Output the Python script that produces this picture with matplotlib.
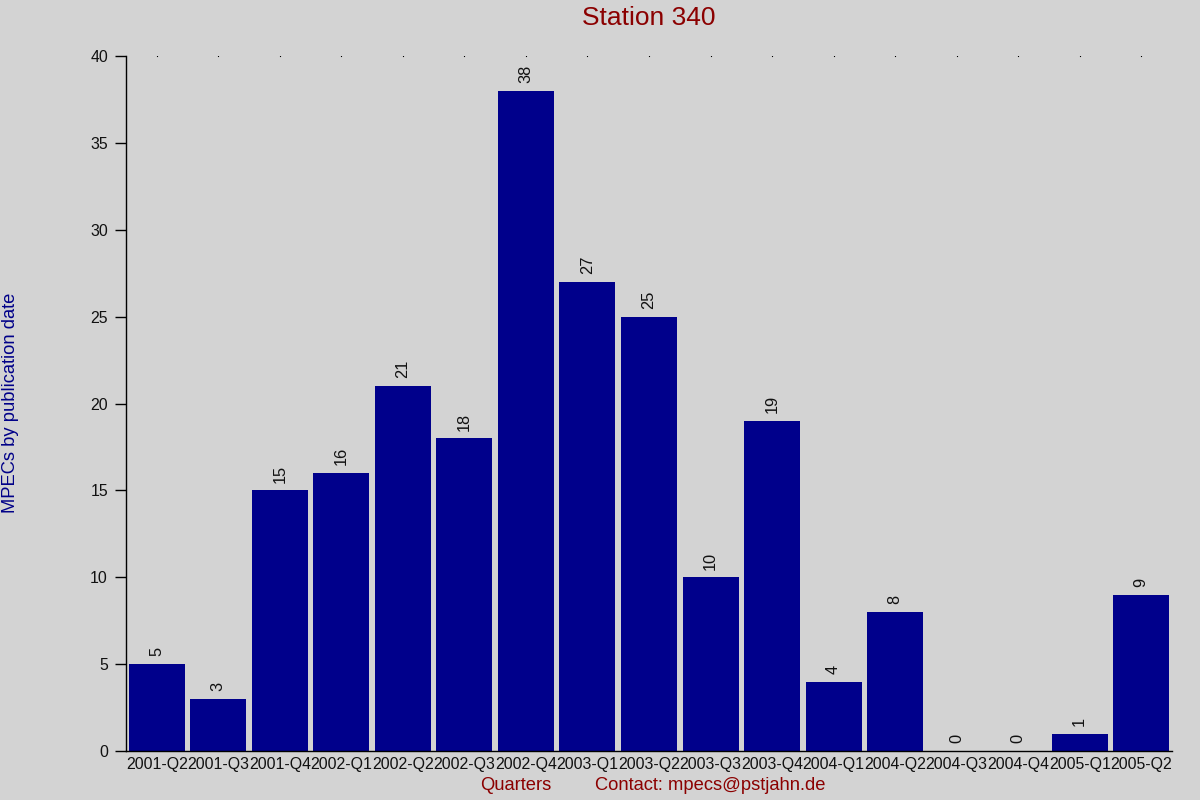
import matplotlib
matplotlib.use("Agg")
import matplotlib.pyplot as plt
import numpy as np

quarters = ['2001-Q2', '2001-Q3', '2001-Q4', '2002-Q1', '2002-Q2', '2002-Q3',
            '2002-Q4', '2003-Q1', '2003-Q2', '2003-Q3', '2003-Q4', '2004-Q1',
            '2004-Q2', '2004-Q3', '2004-Q4', '2005-Q1', '2005-Q2']
counts = [5, 3, 15, 16, 21, 18, 38, 27, 25, 10, 19, 4, 8, 0, 0, 1, 9]
y_ticks = [0, 5, 10, 15, 20, 25, 30, 35, 40]

bg = '#d3d3d3'
bar_color = '#00008b'
red = '#8b0000'

plt.rcParams['font.family'] = ['Liberation Sans', 'DejaVu Sans']

fig = plt.figure(figsize=(12, 8), dpi=100, facecolor=bg)
ax = fig.add_axes([126 / 1200, 1 - 751 / 800, 1046 / 1200, 695 / 800])
ax.set_facecolor(bg)

x = np.arange(len(quarters))
ax.bar(x, counts, width=0.91, color=bar_color, zorder=2)

# value labels above each bar
for xi, c in zip(x, counts):
    ax.annotate(str(c), (xi, c), xytext=(0, 5.5), textcoords='offset points',
                rotation=90, ha='center', va='bottom', fontsize=11.8,
                color='#111111')

# dotted grid marks along the top
ax.plot(x, [y_ticks[-1]] * len(x), linestyle='none', marker='s',
        markersize=0.8, markeredgewidth=0, color='black', zorder=1)

ax.set_xlim(-0.5, len(quarters) - 0.5)
ax.set_ylim(0, 40)
ax.set_yticks(y_ticks)
ax.set_xticks(x)
ax.set_xticklabels(quarters, fontsize=11.4, color='#111111')
ax.tick_params(axis='x', length=0, pad=4)
ax.tick_params(axis='y', length=8, width=1, pad=5, labelsize=11.4,
               labelcolor='#111111')

for side in ('top', 'right'):
    ax.spines[side].set_visible(False)
for side in ('left', 'bottom'):
    ax.spines[side].set_linewidth(1)

fig.text(649 / 1200, 1 - 18 / 800, 'Station 340', ha='center', va='center',
         fontsize=19, color=red)
fig.text(11 / 1200, 1 - 403 / 800, 'MPECs by publication date', rotation=90,
         ha='center', va='center', fontsize=13.2, color='#000088')
fig.text(516 / 1200, 1 - 786 / 800, 'Quarters', ha='center', va='center',
         fontsize=13.2, color=red)
fig.text(710 / 1200, 1 - 786 / 800, 'Contact: mpecs@pstjahn.de', ha='center',
         va='center', fontsize=13.2, color=red)

fig.savefig('out.png', dpi=100, facecolor=bg)
